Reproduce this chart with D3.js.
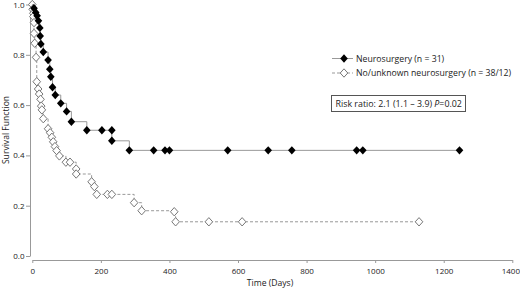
<!DOCTYPE html>
<html lang="en">
<head>
  <meta charset="UTF-8">
  <title>Survival</title>
  <script src="https://cdn.jsdelivr.net/npm/d3@7"></script>
  <style>
    body { margin: 0; background: #fff; }
    text { font-family: "Open Sans", sans-serif; fill: #222; }
    .axis path, .axis line { stroke: #999; }
    .axis text { font-size: 8px; fill: #222; }
  </style>
</head>
<body>
  <svg width="520" height="290"></svg>
  <script>
    // Neurosurgery (filled diamonds)
    var neuroDays = [0, 5, 10, 14, 18, 22, 23, 25, 32, 46, 51, 54, 59, 67, 83, 100, 114,
      159, 203, 232, 232, 283, 354, 387, 400, 570, 688, 757, 946, 964, 1246];
    var neuroSurv = [1.0, 0.985, 0.968, 0.955, 0.935, 0.907, 0.875, 0.843, 0.811, 0.779, 0.743, 0.713,
      0.671, 0.640, 0.607, 0.575, 0.534, 0.5, 0.5, 0.5, 0.458, 0.42, 0.42, 0.42, 0.42, 0.42,
      0.42, 0.42, 0.42, 0.42, 0.42];

    // No/unknown neurosurgery (open diamonds)
    var otherDays = [0, 1, 3, 3, 5, 5, 7, 11, 13, 17, 20, 24, 26, 28, 32, 46, 52, 57, 61, 66, 71,
      79, 98, 110, 128, 128, 173, 181, 188, 219, 232, 297, 319, 414, 418, 515, 612, 1128];
    var otherSurv = [1.0, 0.981, 0.965, 0.952, 0.928, 0.885, 0.846, 0.79, 0.693, 0.664, 0.644,
      0.623, 0.596, 0.581, 0.546, 0.506, 0.49, 0.472, 0.454, 0.435, 0.419, 0.398, 0.373, 0.373,
      0.346, 0.326, 0.295, 0.276, 0.245, 0.245, 0.245, 0.212, 0.18, 0.176, 0.136, 0.136, 0.136, 0.136];

    var seriesLabels = ['Neurosurgery (n = 31)', 'No/unknown neurosurgery (n = 38/12)'];
    var xTicks = [0, 200, 400, 600, 800, 1000, 1200, 1400];
    var yTicks = [0, 0.2, 0.4, 0.6, 0.8, 1.0];

    var svg = d3.select('svg');

    var x = d3.scaleLinear().domain([0, 1400]).range([32.3, 512.3]);
    var y = d3.scaleLinear().domain([0, 1]).range([256, 4.5]);

    svg.append('g')
      .attr('class', 'axis')
      .attr('transform', 'translate(30,0)')
      .call(d3.axisLeft(y).tickValues(yTicks).tickFormat(d3.format('.1f')).tickSize(4).tickSizeOuter(0).tickPadding(1.5));

    var xAxis = svg.append('g')
      .attr('class', 'axis')
      .attr('transform', 'translate(0,260)')
      .call(d3.axisBottom(x).tickValues(xTicks).tickFormat(d3.format('d')).tickSize(3).tickSizeOuter(0).tickPadding(5));
    // keep the last label inside the frame
    xAxis.selectAll('.tick text')
      .filter(function(d) { return d === 1400; })
      .attr('dx', -2);

    svg.append('text')
      .attr('transform', 'translate(9,130) rotate(-90)')
      .attr('text-anchor', 'middle')
      .attr('font-size', 8.6)
      .text('Survival Function');

    svg.append('text')
      .attr('x', 270)
      .attr('y', 286)
      .attr('text-anchor', 'middle')
      .attr('font-size', 8.6)
      .text('Time (Days)');

    function toPoints(days, surv) {
      return days.map(function(d, i) { return {t: d, s: surv[i]}; });
    }
    var neuro = toPoints(neuroDays, neuroSurv);
    var other = toPoints(otherDays, otherSurv);

    var line = d3.line()
      .curve(d3.curveStepAfter)
      .x(function(d) { return x(d.t); })
      .y(function(d) { return y(d.s); });

    // slightly squarer diamond than d3.symbolDiamond
    var diamondType = {
      draw: function(ctx) {
        ctx.moveTo(0, -4.2);
        ctx.lineTo(3.8, 0);
        ctx.lineTo(0, 4.2);
        ctx.lineTo(-3.8, 0);
        ctx.closePath();
      }
    };
    var diamond = d3.symbol().type(diamondType);

    svg.append('path')
      .attr('d', line(other))
      .attr('fill', 'none')
      .attr('stroke', '#999')
      .attr('stroke-dasharray', '3,2');

    svg.selectAll('.open')
      .data(other)
      .enter()
      .append('path')
      .attr('class', 'open')
      .attr('d', diamond)
      .attr('transform', function(d) { return 'translate(' + x(d.t) + ',' + y(d.s) + ')'; })
      .attr('fill', '#fff')
      .attr('stroke', '#777');

    svg.append('path')
      .attr('d', line(neuro))
      .attr('fill', 'none')
      .attr('stroke', '#999');

    svg.selectAll('.filled')
      .data(neuro.slice(1))
      .enter()
      .append('path')
      .attr('class', 'filled')
      .attr('d', diamond)
      .attr('transform', function(d) { return 'translate(' + x(d.t) + ',' + y(d.s) + ')'; })
      .attr('fill', '#000');

    // legend
    var legend = svg.selectAll('.legend')
      .data(seriesLabels)
      .enter()
      .append('g')
      .attr('class', 'legend')
      .attr('transform', function(d, i) { return 'translate(332,' + (58.5 + i * 14.5) + ')'; });

    legend.append('line')
      .attr('x1', 0).attr('x2', 21)
      .attr('stroke', '#999')
      .attr('stroke-dasharray', function(d, i) { return i ? '3,2' : null; });

    legend.append('path')
      .attr('d', diamond)
      .attr('transform', 'translate(12,0)')
      .attr('fill', function(d, i) { return i ? '#fff' : '#000'; })
      .attr('stroke', function(d, i) { return i ? '#777' : null; });

    legend.append('text')
      .attr('x', 24)
      .attr('dy', '.35em')
      .attr('font-size', 8.7)
      .text(function(d) { return d; });

    svg.append('rect')
      .attr('x', 331.5).attr('y', 95.5)
      .attr('width', 134).attr('height', 16)
      .attr('fill', '#fff')
      .attr('stroke', '#555');

    var rr = svg.append('text')
      .attr('x', 335.5)
      .attr('y', 106.8)
      .attr('font-size', 8.85);
    rr.append('tspan').text('Risk ratio: 2.1 (1.1 \u2013 3.9) ');
    rr.append('tspan').attr('font-style', 'italic').text('P');
    rr.append('tspan').text('=0.02');
  </script>
</body>
</html>
